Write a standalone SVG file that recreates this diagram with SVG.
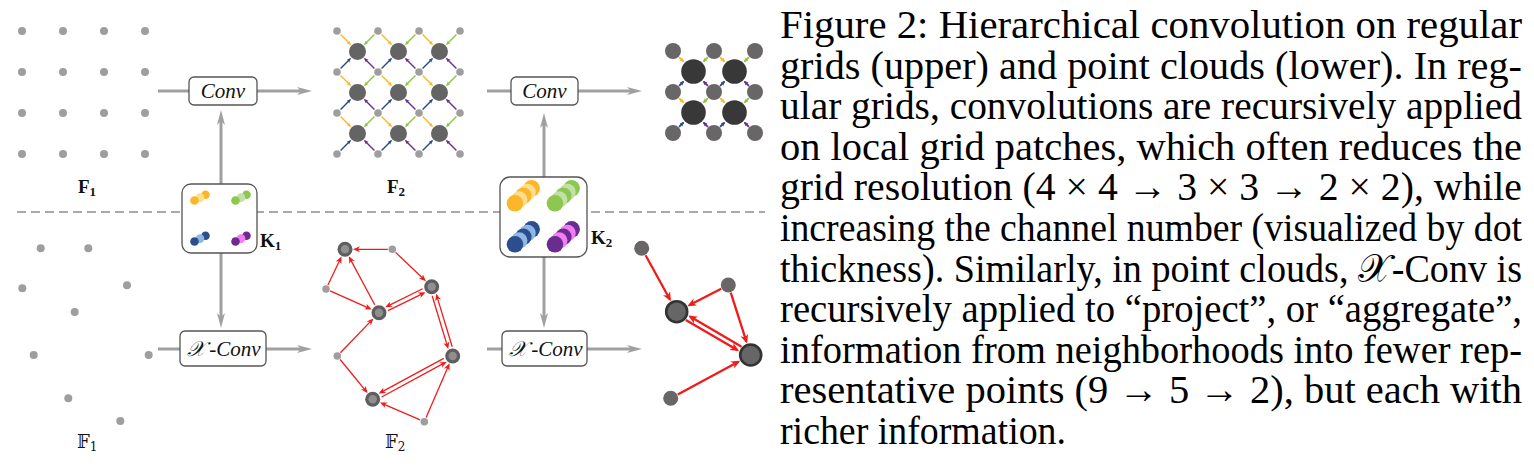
<svg xmlns="http://www.w3.org/2000/svg" xmlns:xlink="http://www.w3.org/1999/xlink" width="1534" height="468" viewBox="0 0 1534 468">
<style>
.gd{fill:#9e9e9e}
.sd{fill:#686666}
.bd{fill:#646464}
.kd{fill:#383838}
.box{fill:#fff;stroke:#555;stroke-width:1.3}
.conn{stroke:#a0a0a0;stroke-width:3;fill:none}
.dash{stroke:#aaa;stroke-width:2;stroke-dasharray:9 5;fill:none}
.y{stroke:#FDB827;stroke-width:1.4;fill:none;marker-end:url(#my)}
.g{stroke:#8DC63F;stroke-width:1.4;fill:none;marker-end:url(#mg)}
.b{stroke:#2B4A8B;stroke-width:1.4;fill:none;marker-end:url(#mb)}
.p{stroke:#6B2E8F;stroke-width:1.4;fill:none;marker-end:url(#mp)}
.r{stroke:#f01c1c;stroke-width:1.3;fill:none;marker-end:url(#mr)}
.R{stroke:#f01c1c;stroke-width:2.3;fill:none;marker-end:url(#mR)}
.yd{fill:#FBB62A}.yl{fill:#FEDE8E}
.gk{fill:#8CC751}.gl{fill:#C3E0A6}
.bk{fill:#2D4E8E}.bl{fill:#8FB7E4}
.pk{fill:#6A2D8F}.pl{fill:#F47CF2}
.lbl{font-family:"Liberation Serif","DejaVu Serif",serif;font-weight:bold;fill:#111}
.bb{font-family:"DejaVu Serif","DejaVu Sans","Liberation Serif",serif;fill:#111}
.op{font-family:"Liberation Serif","DejaVu Serif",serif;font-style:italic;fill:#111;font-size:21px}
.cap{font-family:"Liberation Serif","DejaVu Serif",serif;font-size:37px;fill:#000}
</style>
<defs>
<marker id="ga" markerUnits="userSpaceOnUse" markerWidth="16" markerHeight="10" refX="8" refY="4" orient="auto"><path d="M0,0 L15,4 L0,8 L4,4 z" fill="#a0a0a0"/></marker>
<marker id="my" markerUnits="userSpaceOnUse" markerWidth="6" markerHeight="5" refX="3.5" refY="2" orient="auto"><path d="M0,0 L5,2 L0,4 L1.2,2 z" fill="#FDB827"/></marker>
<marker id="mg" markerUnits="userSpaceOnUse" markerWidth="6" markerHeight="5" refX="3.5" refY="2" orient="auto"><path d="M0,0 L5,2 L0,4 L1.2,2 z" fill="#8DC63F"/></marker>
<marker id="mb" markerUnits="userSpaceOnUse" markerWidth="6" markerHeight="5" refX="3.5" refY="2" orient="auto"><path d="M0,0 L5,2 L0,4 L1.2,2 z" fill="#2B4A8B"/></marker>
<marker id="mp" markerUnits="userSpaceOnUse" markerWidth="6" markerHeight="5" refX="3.5" refY="2" orient="auto"><path d="M0,0 L5,2 L0,4 L1.2,2 z" fill="#6B2E8F"/></marker>
<marker id="mr" markerUnits="userSpaceOnUse" markerWidth="8" markerHeight="7" refX="5" refY="3" orient="auto"><path d="M0,0 L7,3 L0,6 L2,3 z" fill="#f01c1c"/></marker>
<marker id="mR" markerUnits="userSpaceOnUse" markerWidth="10" markerHeight="9" refX="7" refY="4" orient="auto"><path d="M0,0 L9,4 L0,8 L2.5,4 z" fill="#f01c1c"/></marker>
<g id="cell2">
<path class="y" d="M-16.96,-16.96 L-7.42,-7.42"/>
<path class="g" d="M16.96,-16.96 L7.42,-7.42"/>
<path class="b" d="M-16.96,16.96 L-7.42,7.42"/>
<path class="p" d="M16.96,16.96 L7.42,7.42"/>
</g>
<g id="cell3">
<path class="y" style="stroke-width:2" d="M-14.4,-14.4 L-10.3,-10.3"/>
<path class="g" style="stroke-width:2" d="M14.4,-14.4 L10.3,-10.3"/>
<path class="b" style="stroke-width:2" d="M-14.4,14.4 L-10.3,10.3"/>
<path class="p" style="stroke-width:2" d="M14.4,14.4 L10.3,10.3"/>
</g>
</defs>
<rect width="1534" height="468" fill="#fff"/>

<g id="connectors">
<path class="dash" d="M17,212 H765"/>
<path class="conn" d="M158,91 H305" marker-end="url(#ga)"/>
<path class="conn" d="M221,184 V117" marker-end="url(#ga)"/>
<path class="conn" d="M487,91 H635" marker-end="url(#ga)"/>
<path class="conn" d="M544,177 V120" marker-end="url(#ga)"/>
<path class="conn" d="M158,349 H305" marker-end="url(#ga)"/>
<path class="conn" d="M221,253 V321" marker-end="url(#ga)"/>
<path class="conn" d="M487,349 H635" marker-end="url(#ga)"/>
<path class="conn" d="M544,257 V321" marker-end="url(#ga)"/>
</g>

<g id="grid-F1">
<circle class="gd" cx="22" cy="31" r="4"/><circle class="gd" cx="63" cy="31" r="4"/><circle class="gd" cx="104" cy="31" r="4"/><circle class="gd" cx="145" cy="31" r="4"/>
<circle class="gd" cx="22" cy="72" r="4"/><circle class="gd" cx="63" cy="72" r="4"/><circle class="gd" cx="104" cy="72" r="4"/><circle class="gd" cx="145" cy="72" r="4"/>
<circle class="gd" cx="22" cy="113" r="4"/><circle class="gd" cx="63" cy="113" r="4"/><circle class="gd" cx="104" cy="113" r="4"/><circle class="gd" cx="145" cy="113" r="4"/>
<circle class="gd" cx="22" cy="154" r="4"/><circle class="gd" cx="63" cy="154" r="4"/><circle class="gd" cx="104" cy="154" r="4"/><circle class="gd" cx="145" cy="154" r="4"/>
<text class="lbl" x="78" y="193" font-size="19">F<tspan font-size="13" dy="3">1</tspan></text>
</g>

<g id="grid-F2">
<use xlink:href="#cell2" x="357.5" y="51.5"/><use xlink:href="#cell2" x="398.5" y="51.5"/><use xlink:href="#cell2" x="439.5" y="51.5"/>
<use xlink:href="#cell2" x="357.5" y="92.5"/><use xlink:href="#cell2" x="398.5" y="92.5"/><use xlink:href="#cell2" x="439.5" y="92.5"/>
<use xlink:href="#cell2" x="357.5" y="133.5"/><use xlink:href="#cell2" x="398.5" y="133.5"/><use xlink:href="#cell2" x="439.5" y="133.5"/>
<circle class="gd" cx="337" cy="31" r="3.8"/><circle class="gd" cx="378" cy="31" r="3.8"/><circle class="gd" cx="419" cy="31" r="3.8"/><circle class="gd" cx="460" cy="31" r="3.8"/>
<circle class="gd" cx="337" cy="72" r="3.8"/><circle class="gd" cx="378" cy="72" r="3.8"/><circle class="gd" cx="419" cy="72" r="3.8"/><circle class="gd" cx="460" cy="72" r="3.8"/>
<circle class="gd" cx="337" cy="113" r="3.8"/><circle class="gd" cx="378" cy="113" r="3.8"/><circle class="gd" cx="419" cy="113" r="3.8"/><circle class="gd" cx="460" cy="113" r="3.8"/>
<circle class="gd" cx="337" cy="154" r="3.8"/><circle class="gd" cx="378" cy="154" r="3.8"/><circle class="gd" cx="419" cy="154" r="3.8"/><circle class="gd" cx="460" cy="154" r="3.8"/>
<circle class="bd" cx="357.5" cy="51.5" r="8.5"/><circle class="bd" cx="398.5" cy="51.5" r="8.5"/><circle class="bd" cx="439.5" cy="51.5" r="8.5"/>
<circle class="bd" cx="357.5" cy="92.5" r="8.5"/><circle class="bd" cx="398.5" cy="92.5" r="8.5"/><circle class="bd" cx="439.5" cy="92.5" r="8.5"/>
<circle class="bd" cx="357.5" cy="133.5" r="8.5"/><circle class="bd" cx="398.5" cy="133.5" r="8.5"/><circle class="bd" cx="439.5" cy="133.5" r="8.5"/>
<text class="lbl" x="387" y="193" font-size="19">F<tspan font-size="13" dy="3">2</tspan></text>
</g>

<g id="grid-F3">
<use xlink:href="#cell3" x="693.5" y="71.5"/><use xlink:href="#cell3" x="734.5" y="71.5"/>
<use xlink:href="#cell3" x="693.5" y="112.5"/><use xlink:href="#cell3" x="734.5" y="112.5"/>
<circle class="sd" cx="673" cy="51" r="8"/><circle class="sd" cx="714" cy="51" r="8"/><circle class="sd" cx="755" cy="51" r="8"/>
<circle class="sd" cx="673" cy="92" r="8"/><circle class="sd" cx="714" cy="92" r="8"/><circle class="sd" cx="755" cy="92" r="8"/>
<circle class="sd" cx="673" cy="133" r="8"/><circle class="sd" cx="714" cy="133" r="8"/><circle class="sd" cx="755" cy="133" r="8"/>
<circle class="kd" cx="693.5" cy="71.5" r="12.3"/><circle class="kd" cx="734.5" cy="71.5" r="12.3"/>
<circle class="kd" cx="693.5" cy="112.5" r="12.3"/><circle class="kd" cx="734.5" cy="112.5" r="12.3"/>
</g>

<g id="conv1">
<rect class="box" x="189" y="77" width="68" height="28" rx="5"/>
<text class="op" x="223" y="98" text-anchor="middle">Conv</text>
</g>
<g id="conv2">
<rect class="box" x="511" y="77" width="67" height="28" rx="5"/>
<text class="op" x="544.5" y="98" text-anchor="middle">Conv</text>
</g>

<g id="K1">
<rect class="box" x="182" y="184" width="75" height="69" rx="9"/>
<circle class="yd" cx="205.5" cy="194.7" r="4.3"/><circle class="yl" cx="200" cy="197.6" r="4.3"/><circle class="yd" cx="194.5" cy="200.5" r="4.3"/>
<circle class="gk" cx="246.5" cy="194.7" r="4.3"/><circle class="gl" cx="241" cy="197.6" r="4.3"/><circle class="gk" cx="235.5" cy="200.5" r="4.3"/>
<circle class="bk" cx="205.5" cy="235.7" r="4.3"/><circle class="bl" cx="200" cy="238.6" r="4.3"/><circle class="bk" cx="194.5" cy="241.5" r="4.3"/>
<circle class="pk" cx="246.5" cy="235.7" r="4.3"/><circle class="pl" cx="241" cy="238.6" r="4.3"/><circle class="pk" cx="235.5" cy="241.5" r="4.3"/>
<text class="lbl" x="260" y="247" font-size="19">K<tspan font-size="13" dy="3">1</tspan></text>
</g>

<g id="K2">
<rect class="box" x="500" y="177" width="87" height="80" rx="10"/>
<circle class="yd" cx="531.65" cy="188.3" r="8.3"/><circle class="yl" cx="527.48" cy="192.05" r="8.3"/><circle class="yd" cx="523.3" cy="195.8" r="8.3"/><circle class="yl" cx="519.13" cy="199.55" r="8.3"/><circle class="yd" cx="514.95" cy="203.3" r="8.3"/>
<circle class="gk" cx="571.65" cy="188.3" r="8.3"/><circle class="gl" cx="567.48" cy="192.05" r="8.3"/><circle class="gk" cx="563.3" cy="195.8" r="8.3"/><circle class="gl" cx="559.13" cy="199.55" r="8.3"/><circle class="gk" cx="554.95" cy="203.3" r="8.3"/>
<circle class="bk" cx="531.65" cy="229.3" r="8.3"/><circle class="bl" cx="527.48" cy="233.05" r="8.3"/><circle class="bk" cx="523.3" cy="236.8" r="8.3"/><circle class="bl" cx="519.13" cy="240.55" r="8.3"/><circle class="bk" cx="514.95" cy="244.3" r="8.3"/>
<circle class="pk" cx="571.65" cy="229.3" r="8.3"/><circle class="pl" cx="567.48" cy="233.05" r="8.3"/><circle class="pk" cx="563.3" cy="236.8" r="8.3"/><circle class="pl" cx="559.13" cy="240.55" r="8.3"/><circle class="pk" cx="554.95" cy="244.3" r="8.3"/>
<text class="lbl" x="591" y="244" font-size="19">K<tspan font-size="13" dy="3">2</tspan></text>
</g>

<g id="xconv1">
<rect class="box" x="180" y="331" width="86" height="35" rx="5"/>
<text class="op" x="224" y="356" text-anchor="middle">𝒳<tspan dx="4">-Conv</tspan></text>
</g>
<g id="xconv2">
<rect class="box" x="502" y="331" width="85" height="35" rx="5"/>
<text class="op" x="546" y="356" text-anchor="middle">𝒳<tspan dx="4">-Conv</tspan></text>
</g>

<g id="cloud-F1">
<circle class="gd" cx="40.7" cy="248.3" r="4"/><circle class="gd" cx="88.3" cy="248.3" r="4"/><circle class="gd" cx="22.3" cy="288.3" r="4"/>
<circle class="gd" cx="127" cy="285.3" r="4"/><circle class="gd" cx="74.7" cy="312" r="4"/><circle class="gd" cx="33.7" cy="355" r="4"/>
<circle class="gd" cx="148.7" cy="355" r="4"/><circle class="gd" cx="68.3" cy="398.3" r="4"/><circle class="gd" cx="120.3" cy="421" r="4"/>
<text class="bb" x="77" y="448" font-size="18">𝔽<tspan font-size="12" dy="3">1</tspan></text>
</g>

<g id="cloud-F2">
<path class="r" d="M387.8,249.3 L355,249.3"/>
<path class="r" d="M395.56,252.4 L424.45,279.82"/>
<path class="r" d="M327.94,284.94 L340.68,258.32"/>
<path class="r" d="M330.11,290.84 L369.87,308.62"/>
<path class="r" d="M374.75,304.77 L349.73,258.11"/>
<path class="r" d="M388.04,310.69 L423.7,293.1"/>
<path class="r" d="M422.66,288.71 L387,306.3"/>
<path class="r" d="M432.21,295.95 L447.7,347.07"/>
<path class="r" d="M452.2,346.75 L436.71,295.63"/>
<path class="r" d="M340.42,352.76 L372.06,319.9"/>
<path class="r" d="M340.15,359.48 L366.37,391.56"/>
<path class="r" d="M443.74,358.35 L380.44,392.61"/>
<path class="r" d="M381.66,396.95 L444.96,362.69"/>
<path class="r" d="M420.17,419.91 L381.87,403.28"/>
<path class="r" d="M426.09,417.57 L448.73,365.18"/>
<circle class="gd" cx="392.3" cy="249.3" r="3.8"/><circle class="gd" cx="326" cy="289" r="3.8"/>
<circle class="gd" cx="337.3" cy="356" r="3.8"/><circle class="gd" cx="424.3" cy="421.7" r="3.8"/>
<circle fill="#5e5e5e" cx="345" cy="249.3" r="7.5"/><circle fill="#8f8f8f" cx="345" cy="249.3" r="4.2"/>
<circle fill="#5e5e5e" cx="379" cy="312.7" r="7.5"/><circle fill="#8f8f8f" cx="379" cy="312.7" r="4.2"/>
<circle fill="#5e5e5e" cx="431.7" cy="286.7" r="7.5"/><circle fill="#8f8f8f" cx="431.7" cy="286.7" r="4.2"/>
<circle fill="#5e5e5e" cx="452.7" cy="356" r="7.5"/><circle fill="#8f8f8f" cx="452.7" cy="356" r="4.2"/>
<circle fill="#5e5e5e" cx="372.7" cy="399.3" r="7.5"/><circle fill="#8f8f8f" cx="372.7" cy="399.3" r="4.2"/>
<text class="bb" x="385" y="448" font-size="18">𝔽<tspan font-size="12" dy="3">2</tspan></text>
</g>

<g id="cloud-F3">
<path class="R" d="M645.57,255.3 L669.93,299.44"/>
<path class="R" d="M721.2,288.68 L689.13,305.27"/>
<path class="R" d="M730.74,292.62 L746.43,341.67"/>
<path class="R" d="M685.8,319.92 L737.36,350.09"/>
<path class="R" d="M741.6,346.78 L690.04,316.61"/>
<path class="R" d="M677.74,394.49 L738.39,361.66"/>
<circle class="sd" cx="641.7" cy="248.3" r="7.5"/><circle class="sd" cx="728.3" cy="285" r="7.5"/><circle class="sd" cx="670.7" cy="398.3" r="7.5"/>
<circle fill="#666" stroke="#333" stroke-width="2.6" cx="676.7" cy="311.7" r="10.5"/>
<circle fill="#666" stroke="#333" stroke-width="2.6" cx="750.7" cy="355" r="10.5"/>
</g>

<g id="caption" class="cap" transform="scale(1,1.08)">
<text x="780" y="35.19" textLength="742" lengthAdjust="spacingAndGlyphs">Figure 2: Hierarchical convolution on regular</text>
<text x="780" y="72.78" textLength="742" lengthAdjust="spacingAndGlyphs">grids (upper) and point clouds (lower). In reg-</text>
<text x="780" y="110.37" textLength="742" lengthAdjust="spacingAndGlyphs">ular grids, convolutions are recursively applied</text>
<text x="780" y="147.96" textLength="742" lengthAdjust="spacingAndGlyphs">on local grid patches, which often reduces the</text>
<text x="780" y="185.56" textLength="742" lengthAdjust="spacingAndGlyphs">grid resolution (4 × 4 → 3 × 3 → 2 × 2), while</text>
<text x="780" y="223.15" textLength="742" lengthAdjust="spacingAndGlyphs">increasing the channel number (visualized by dot</text>
<text x="780" y="260.74" textLength="742" lengthAdjust="spacingAndGlyphs">thickness). Similarly, in point clouds, 𝒳-Conv is</text>
<text x="780" y="298.33" textLength="742" lengthAdjust="spacingAndGlyphs">recursively applied to “project”, or “aggregate”,</text>
<text x="780" y="335.93" textLength="742" lengthAdjust="spacingAndGlyphs">information from neighborhoods into fewer rep-</text>
<text x="780" y="373.52" textLength="742" lengthAdjust="spacingAndGlyphs">resentative points (9 → 5 → 2), but each with</text>
<text x="780" y="411.11" textLength="286" lengthAdjust="spacingAndGlyphs">richer information.</text>
</g>
</svg>
